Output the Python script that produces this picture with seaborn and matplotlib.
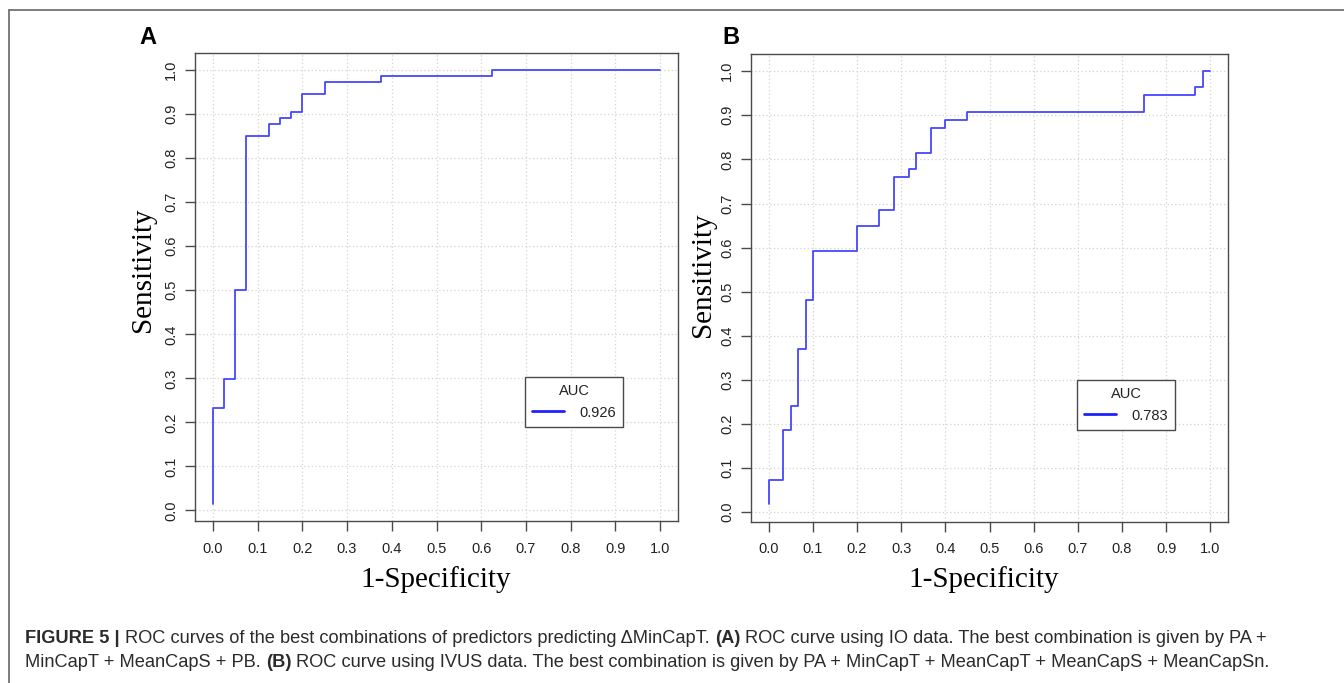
import matplotlib
matplotlib.use("Agg")
import matplotlib.pyplot as plt
import seaborn as sns
import pandas as pd
from matplotlib.lines import Line2D

# ROC step points (x = 1-specificity, y = sensitivity)
fpr_a = [0, 0, 0.025, 0.05, 0.075, 0.125, 0.15, 0.175, 0.2, 0.25, 0.375, 0.625, 1.0]
tpr_a = [0.015, 0.232, 0.298, 0.5, 0.851, 0.878, 0.892, 0.905, 0.946, 0.972, 0.986, 1.0, 1.0]

fpr_b = [0, 0, 0.033, 0.05, 0.067, 0.084, 0.1, 0.2, 0.25, 0.284, 0.318, 0.334,
         0.367, 0.4, 0.45, 0.85, 0.966, 0.983, 1.0]
tpr_b = [0.018, 0.074, 0.186, 0.242, 0.37, 0.482, 0.593, 0.648, 0.686, 0.76, 0.779,
         0.815, 0.871, 0.89, 0.908, 0.945, 0.964, 1.0, 1.0]

auc_labels = ["0.926", "0.783"]
panel_labels = ["A", "B"]
ticks = [i / 10 for i in range(11)]
tick_labels = [f"{t:.1f}" for t in ticks]

caption_1 = [("FIGURE 5 |", True), ("ROC curves of the best combinations of predictors predicting \u0394MinCapT.", False),
             ("(A)", True), ("ROC curve using IO data. The best combination is given by PA +", False)]
caption_2 = [("MinCapT + MeanCapS + PB.", False), ("(B)", True),
             ("ROC curve using IVUS data. The best combination is given by PA + MinCapT + MeanCapT + MeanCapS + MeanCapSn.", False)]

sns.set_theme(style="white")
plt.rcParams["font.family"] = ["Liberation Sans", "DejaVu Sans"]

W, H = 1344, 683
fig = plt.figure(figsize=(W / 100, H / 100), dpi=100)

CURVE = "#4747ff"
EDGE = "#4a4a4a"


def px_axes(left, top, right, bottom):
    return fig.add_axes([left / W, 1 - bottom / H, (right - left) / W, (bottom - top) / H])


def roc_panel(ax, fpr, tpr, ylim):
    df = pd.DataFrame({"fpr": fpr, "tpr": tpr})
    sns.lineplot(data=df, x="fpr", y="tpr", ax=ax, estimator=None, sort=False,
                 drawstyle="steps-post", color=CURVE, linewidth=1.3)
    ax.set_xlim(-0.04, 1.04)
    ax.set_ylim(*ylim)
    ax.set_xticks(ticks)
    ax.set_xticklabels(tick_labels)
    ax.set_yticks(ticks)
    ax.set_yticklabels(tick_labels, rotation=90, va="center")
    ax.tick_params(axis="both", direction="out", length=7, width=1, color=EDGE,
                   labelsize=10.5, labelcolor="#222222", bottom=True, left=True)
    ax.tick_params(axis="x", pad=8)
    ax.tick_params(axis="y", pad=5)
    ax.grid(True, color="#d4d4d4", linestyle=(0, (1, 2)), linewidth=0.9)
    ax.set_axisbelow(True)
    for s in ax.spines.values():
        s.set_color(EDGE)
        s.set_linewidth(1.0)
    ax.set_xlabel("")
    ax.set_ylabel("")


ax_a = px_axes(195, 53, 678, 521)
roc_panel(ax_a, fpr_a, tpr_a, (-0.024, 1.039))
ax_b = px_axes(751, 54, 1228, 521.5)
roc_panel(ax_b, fpr_b, tpr_b, (-0.021, 1.039))

# legends
for auc, (lx, ly) in zip(auc_labels, [(525, 377), (1077, 380)]):
    h = Line2D([], [], color="#2020ff", linewidth=2)
    leg = fig.legend([h], [auc], title="AUC", loc="upper left",
                     bbox_to_anchor=(lx / W, 1 - ly / H), fontsize=10.5, title_fontsize=10.5,
                     frameon=True, fancybox=False, framealpha=1, edgecolor=EDGE,
                     handlelength=2.2, handletextpad=1.0, borderpad=0.5, borderaxespad=0)
    leg.get_frame().set_linewidth(1.0)
    leg.get_title().set_color("#222222")
    for t in leg.get_texts():
        t.set_color("#222222")

# axis titles (serif, as in R base graphics)
for cx in (436, 984):
    fig.text(cx / W, 1 - 580 / H, "1-Specificity", family="Liberation Serif",
             fontsize=21, ha="center", va="center", color="black")
for cx, cy in ((143, 270), (703, 275)):
    fig.text(cx / W, 1 - cy / H, "Sensitivity", family="Liberation Serif",
             fontsize=21, ha="center", va="center", rotation=90, color="black")

for lab, cx in zip(panel_labels, (148, 731)):
    fig.text(cx / W, 1 - 37 / H, lab, fontsize=17, fontweight="bold",
             ha="center", va="center", color="black")

# partial frame around the figure
fig.add_artist(Line2D([9 / W, 9 / W], [0, 1 - 10 / H], color="#666666", linewidth=1.2))
fig.add_artist(Line2D([9 / W, 1], [1 - 10 / H, 1 - 10 / H], color="#666666", linewidth=1.2))

# caption with mixed bold / regular runs
renderer = fig.canvas.get_renderer()


def text_width(s, size, bold):
    t = fig.text(0, 0, s, fontsize=size, fontweight="bold" if bold else "normal")
    w = t.get_window_extent(renderer).width
    t.remove()
    return w


def line_width(segs, size):
    sp = text_width("a a", size, False) - text_width("aa", size, False)
    return sum(text_width(s, size, b) for s, b in segs) + sp * (len(segs) - 1)


base = 10
cap_size = base * (1273 - 25) / line_width(caption_2, base)


def draw_caption(segs, x0, y, size):
    sp = text_width("a a", size, False) - text_width("aa", size, False)
    x = x0
    for s, b in segs:
        fig.text(x / W, 1 - y / H, s, fontsize=size, fontweight="bold" if b else "normal",
                 va="baseline", ha="left", color="#2b2b2b")
        x += text_width(s, size, b) + sp


draw_caption(caption_1, 25, 643, cap_size)
draw_caption(caption_2, 25, 667, cap_size)

fig.savefig("out.png", dpi=100)
